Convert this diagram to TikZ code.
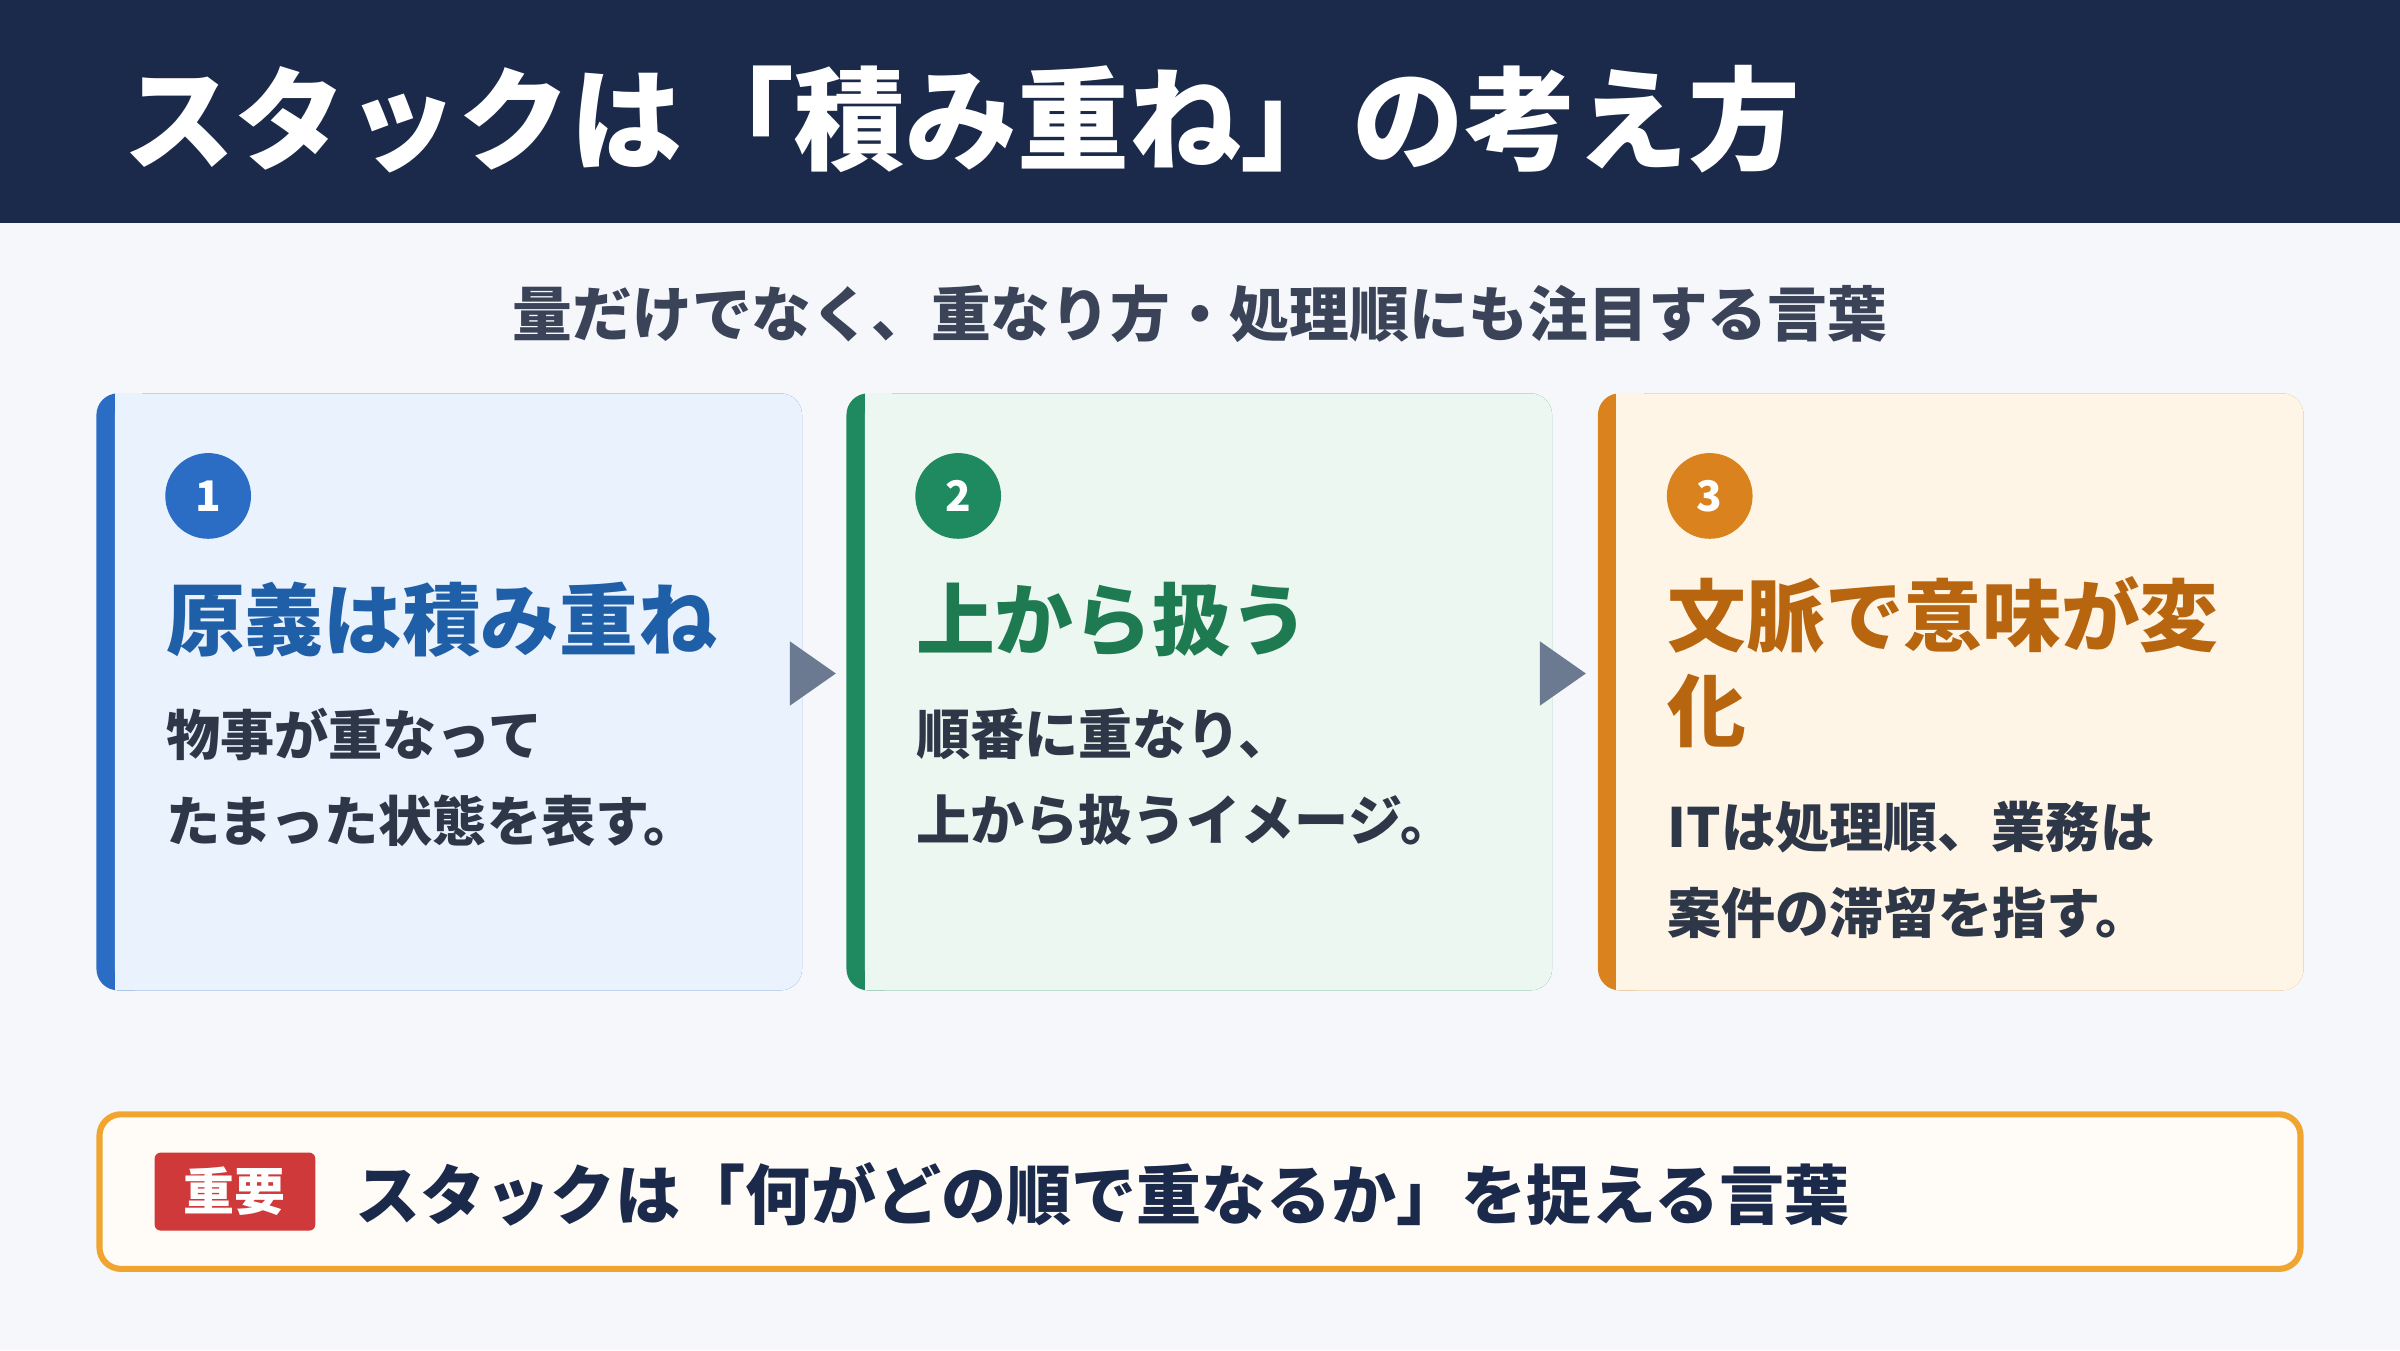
\documentclass[tikz,border=0pt]{standalone}
\usepackage{fontspec}
\setmainfont{Noto Sans CJK JP}
\usetikzlibrary{shapes.geometric}
\definecolor{navy}{HTML}{1B2A4A}
\definecolor{bgc}{HTML}{F5F7FB}
\definecolor{subc}{HTML}{3A4358}
\definecolor{bodyc}{HTML}{2D3748}
\definecolor{acA}{HTML}{2B6CC4}
\definecolor{acB}{HTML}{1F8A5F}
\definecolor{acC}{HTML}{D9821E}
\definecolor{fiA}{HTML}{EAF2FD}
\definecolor{fiB}{HTML}{EBF7F0}
\definecolor{fiC}{HTML}{FEF5E6}
\definecolor{tiA}{HTML}{1F5FA8}
\definecolor{tiB}{HTML}{1E7A50}
\definecolor{tiC}{HTML}{B8650F}
\definecolor{arrc}{HTML}{6B7A90}
\definecolor{keyc}{HTML}{F0A530}
\definecolor{redc}{HTML}{D0393A}
\tikzset{
  card/.style={rounded corners=14*0.01531cm, fill=#1},
  numc/.style={circle, fill=#1, text=white, minimum size=56*0.01531cm, inner sep=0pt, font=\bfseries\fontsize{12}{12}\selectfont},
  ctitle/.style={anchor=west, align=left, text=#1, inner sep=0pt, font=\bfseries\fontsize{22.4}{27}\selectfont},
  cbody/.style={anchor=north west, align=left, text=bodyc, inner sep=0pt, font=\bfseries\fontsize{15.4}{24.5}\selectfont},
  stepar/.style={isosceles triangle, fill=arrc, minimum width=34*0.01531cm, minimum height=30*0.01531cm, inner sep=0pt, isosceles triangle apex angle=70}
}
\begin{document}
\begin{tikzpicture}[x=0.01531cm, y=-0.01531cm]
\useasboundingbox (0,0) rectangle (1568,882);
\fill[bgc] (0,0) rectangle (1568,882);
% header
\fill[navy] (0,0) rectangle (1568,146);
\node[anchor=west, text=white, inner sep=0pt, font=\bfseries\fontsize{31.8}{36}\selectfont] (title) at (80,78) {スタックは「積み重ね」の考え方};
\node[text=subc, inner sep=0pt, font=\bfseries\fontsize{17}{19}\selectfont] (sub) at (784,205) {量だけでなく、重なり方・処理順にも注目する言葉};

% cards
\foreach \x/\c/\n in {63/A/1, 553/B/2, 1044/C/3} {
  \fill[card=ac\c] (\x,257) rectangle (\x+461,647);
  \fill[card=fi\c] (\x+12,257) rectangle (\x+461,647);
  \fill[fi\c] (\x+12,257) rectangle (\x+30,647);
  \node[numc=ac\c] (n\n) at (\x+73,324) {\n};
}
\node[ctitle=tiA] (t1) at (108,405) {原義は積み重ね};
\node[cbody] (b1) at (108,462) {物事が重なって\\たまった状態を表す。};
\node[ctitle=tiB] (t2) at (598,405) {上から扱う};
\node[cbody] (b2) at (598,462) {順番に重なり、\\上から扱うイメージ。};
\node[ctitle=tiC, anchor=north west] (t3) at (1089,376) {文脈で意味が変\\化};
\node[cbody] (b3) at (1089,523) {ITは処理順、業務は\\案件の滞留を指す。};

% arrows
\node[stepar] (a1) at (527,440) {};
\node[stepar] (a2) at (1017,440) {};

% key message
\draw[keyc, line width=4*0.01531cm, fill=white!70!fiC, rounded corners=14*0.01531cm] (65,728) rectangle (1503,829);
\node[fill=redc, text=white, rounded corners=4*0.01531cm, minimum width=105*0.01531cm, minimum height=51*0.01531cm, inner sep=0pt, font=\bfseries\fontsize{14.5}{16}\selectfont] (key) at (153.5,778.5) {重要};
\node[anchor=west, text=navy, inner sep=0pt, font=\bfseries\fontsize{18.5}{21}\selectfont] (msg) at (232,780) {スタックは「何がどの順で重なるか」を捉える言葉};
\end{tikzpicture}
\end{document}
